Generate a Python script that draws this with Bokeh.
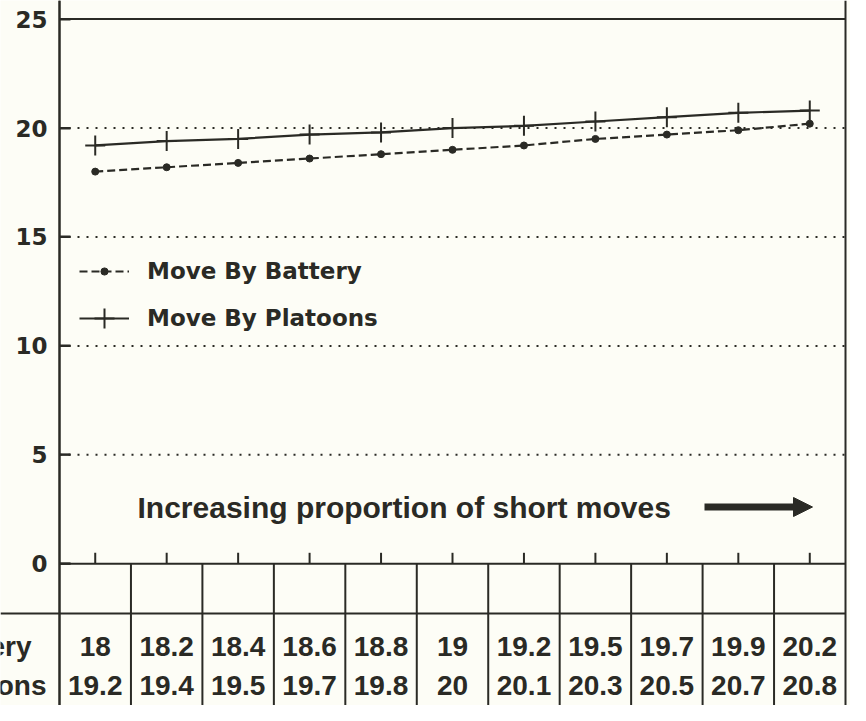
from bokeh.plotting import figure
from bokeh.models import (FixedTicker, Span, Legend, LegendItem, Arrow,
                          NormalHead, Range1d, ColumnDataSource, LinearAxis)
from bokeh.core.properties import value
from bokeh.embed import file_html
from bokeh.resources import INLINE

# ---- data ----
battery = [18, 18.2, 18.4, 18.6, 18.8, 19, 19.2, 19.5, 19.7, 19.9, 20.2]
platoons = [19.2, 19.4, 19.5, 19.7, 19.8, 20, 20.1, 20.3, 20.5, 20.7, 20.8]
series_names = ["Move By Battery", "Move By Platoons"]
y_ticks = [0, 5, 10, 15, 20, 25]
grid_ticks = [5, 10, 15, 20]
note_text = "Increasing proportion of short moves"

idx = list(range(len(battery)))
n = len(idx)

INK = "#2a2a25"
BG = "#fdfdf6"

W, H = 850, 705
AX_X, RIGHT_X = 59.0, 845.0      # pixel positions of the plot box sides
TOP_Y, ZERO_Y = 18.6, 563.3      # pixel positions of y = 25 and y = 0
ppx = (RIGHT_X - AX_X) / n
ppu = (ZERO_Y - TOP_Y) / 25.0

x_lo = -0.5 - AX_X / ppx
x_hi = n - 0.5 + (W - RIGHT_X) / ppx
y_hi = 25 + TOP_Y / ppu
y_lo = -(H - ZERO_Y) / ppu

def px_y(py):
    return (ZERO_Y - py) / ppu

def px_x(px):
    return -0.5 + (px - AX_X) / ppx

p = figure(width=W, height=H, output_backend="svg", toolbar_location=None,
           x_range=Range1d(x_lo, x_hi), y_range=Range1d(y_lo, y_hi),
           x_axis_location=None, y_axis_location=None,
           min_border_left=0, min_border_top=0, min_border_right=0, min_border_bottom=0,
           background_fill_color=BG, border_fill_color=BG, outline_line_color=None)

# y axis labels at the left edge of the plot box
ax = LinearAxis(fixed_location=-0.5, ticker=FixedTicker(ticks=y_ticks),
                axis_line_color=INK, axis_line_width=2,
                major_tick_in=11, major_tick_out=0, major_tick_line_color=INK,
                major_tick_line_width=2, minor_tick_line_color=None,
                major_label_standoff=12, major_label_text_font="DejaVu Sans",
                major_label_text_font_style="bold", major_label_text_font_size="23px",
                major_label_text_color=INK)
p.add_layout(ax, "left")

p.xgrid.visible = False
p.ygrid.visible = False

# dotted reference lines inside the plot box
p.segment(x0=[-0.5] * len(grid_ticks), y0=grid_ticks, x1=[n - 0.5] * len(grid_ticks),
          y1=grid_ticks, line_color=INK, line_width=2, line_dash="2 7")

# plot box: left side (runs down through the table), top, baseline, right side
p.add_layout(Span(location=-0.5, dimension="height", line_color=INK, line_width=2))
p.add_layout(Span(location=n - 0.5, dimension="height", line_color=INK, line_width=2))
p.segment(x0=[-0.5, -0.5], y0=[25, 0], x1=[n - 0.5, n - 0.5], y1=[25, 0],
          line_color=INK, line_width=2)
# y ticks pointing inward
p.segment(x0=[-0.5] * len(y_ticks), y0=y_ticks, x1=[-0.5 + 11 / ppx] * len(y_ticks),
          y1=y_ticks, line_color=INK, line_width=2)

# table under the chart
row_line_y = px_y(613)
p.segment(x0=[x_lo], y0=[row_line_y], x1=[n - 0.5], y1=[row_line_y],
          line_color=INK, line_width=2)
bounds = [i + 0.5 for i in idx[:-1]]
p.segment(x0=bounds, y0=[y_lo] * len(bounds), x1=bounds, y1=[0] * len(bounds),
          line_color=INK, line_width=2)

# category ticks on the baseline
p.segment(x0=idx, y0=[0] * n, x1=idx, y1=[11 / ppu] * n, line_color=INK, line_width=2)

row_b = px_y(645.5)
row_p = px_y(684.5)
src = ColumnDataSource(dict(x=idx, b=["%g" % v for v in battery],
                            p=["%g" % v for v in platoons],
                            yb=[row_b] * n, yp=[row_p] * n))
for col, ycol in (("b", "yb"), ("p", "yp")):
    p.text(x="x", y=ycol, text=col, source=src, text_align="center",
           text_baseline="middle", text_font=value("Liberation Sans"),
           text_font_style="bold", text_font_size="28px", text_color=INK)

# row labels (cut by the left edge, as in the original)
p.text(x=[px_x(31), px_x(46)], y=[row_b, row_p], text=series_names,
       text_align="right", text_baseline="middle", text_font=value("Liberation Sans"),
       text_font_style="bold", text_font_size="28px", text_color=INK)

# series
bl = p.line(idx, battery, line_color=INK, line_width=2.2, line_dash="8 4")
bs = p.scatter(idx, battery, marker="circle", size=7, fill_color=INK, line_color=INK)
pl = p.line(idx, platoons, line_color=INK, line_width=2.2)
ps = p.scatter(idx, platoons, marker="cross", size=20, line_color=INK, line_width=2)

# note and arrow
note_y = px_y(506.5)
p.text(x=[px_x(137)], y=[note_y], text=[note_text], text_align="left",
       text_baseline="middle", text_font=value("Liberation Sans"),
       text_font_style="bold", text_font_size="30px", text_color=INK)
p.add_layout(Arrow(x_start=px_x(704), y_start=note_y, x_end=px_x(812), y_end=note_y,
                   line_color=INK, line_width=7,
                   end=NormalHead(size=19, fill_color=INK, line_color=INK, line_width=1)))

# legends
def make_legend(item, gh, loc):
    lg = Legend(items=[item], location=loc, orientation="vertical",
                glyph_width=50, glyph_height=gh, label_height=gh,
                label_standoff=18, padding=0, margin=0, spacing=0,
                background_fill_alpha=0, border_line_color=None,
                label_text_font="DejaVu Sans", label_text_font_style="bold",
                label_text_font_size="23px", label_text_color=INK)
    p.add_layout(lg, "center")

make_legend(LegendItem(label=series_names[0], renderers=[bl, bs]), 18, (79, 421))
make_legend(LegendItem(label=series_names[1], renderers=[pl, ps]), 50, (79, 362))

open("out.html", "w").write(file_html(p, INLINE))
